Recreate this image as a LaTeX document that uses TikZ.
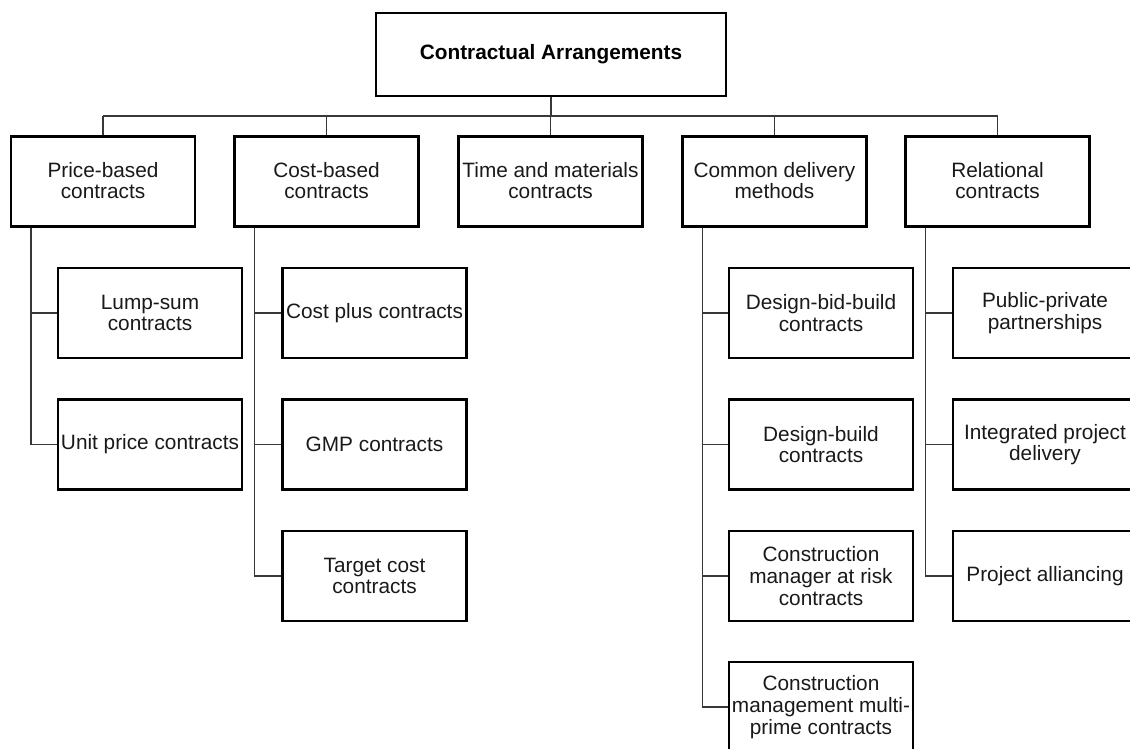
\documentclass[tikz,border=0pt]{standalone}
\usepackage{fontspec}
\setmainfont{Liberation Sans}
\begin{document}
\begin{tikzpicture}[x=1pt,y=-1pt,
  lbl/.style={font=\fontsize{20.8}{21.7}\selectfont, align=center, inner sep=0pt, text=black!90},
  rootbox/.style={draw=black, line width=2.3pt, minimum width=350pt, minimum height=83pt, inner sep=0pt,
    align=center, font=\fontsize{20.8}{21.7}\selectfont\bfseries},
  catbox/.style={draw=black, line width=2.3pt, minimum width=184pt, minimum height=90pt, inner sep=0pt},
  itembox/.style={draw=black, line width=2.3pt, minimum width=184pt, minimum height=90pt, inner sep=0pt,
    lbl},
  conn/.style={draw=black!78, line width=1.3pt}]
\useasboundingbox (0,0) rectangle (1130,749);
\clip (0,0) rectangle (1130,749);

% root
\node[rootbox] (root) at (551,54.5) {Contractual Arrangements};

% first level boxes
\node[catbox] (pb) at (103,181.5) {};
\node[catbox] (cb) at (326.5,181.5) {};
\node[catbox] (tm) at (550.5,181.5) {};
\node[catbox] (cd) at (774.5,181.5) {};
\node[catbox] (rc) at (997.5,181.5) {};

% their labels sit in the upper part of each box (base = last line)
\node[lbl, anchor=base] (pbt) at (103,198.7) {Price-based\\contracts};
\node[lbl, anchor=base] (cbt) at (326.5,198.7) {Cost-based\\contracts};
\node[lbl, anchor=base] (tmt) at (550.5,198.7) {Time and materials\\contracts};
\node[lbl, anchor=base] (cdt) at (774.5,198.7) {Common delivery\\methods};
\node[lbl, anchor=base] (rct) at (997.5,198.7) {Relational\\contracts};

% second level boxes
\node[itembox] (ls) at (150,313) {Lump-sum\\contracts};
\node[itembox] (up) at (150,444.5) {Unit price contracts};

\node[itembox] (cp) at (374.5,313) {Cost plus contracts};
\node[itembox] (gmp) at (374.5,444.5) {GMP contracts};
\node[itembox] (tc) at (374.5,576) {Target cost\\contracts};

\node[itembox] (dbb) at (821,313) {Design-bid-build\\contracts};
\node[itembox] (db) at (821,444.5) {Design-build\\contracts};
\node[itembox] (cmr) at (821,576) {Construction\\manager at risk\\contracts};
\node[itembox] (cmm) at (821,707) {Construction\\management multi-\\prime contracts};

\node[itembox] (ppp) at (1045,313) {Public-private\\partnerships};
\node[itembox] (ipd) at (1045,444.5) {Integrated project\\delivery};
\node[itembox] (pa) at (1045,576) {Project alliancing};

% bus from the root to the first level
\coordinate (bus) at (0,116);
\draw[conn] (root.south) -- (root.south |- bus);
\draw[conn] (pb.north |- bus) -- (rc.north |- bus);
\foreach \n in {pb,cb,tm,cd,rc}
  \draw[conn] (\n.north |- bus) -- (\n.north);

% trunks to the second level
\draw[conn] ([xshift=21pt]pb.south west) |- (ls.west);
\draw[conn] ([xshift=21pt]pb.south west) |- (up.west);

\draw[conn] ([xshift=21pt]cb.south west) |- (cp.west);
\draw[conn] ([xshift=21pt]cb.south west) |- (gmp.west);
\draw[conn] ([xshift=21pt]cb.south west) |- (tc.west);

\draw[conn] ([xshift=21pt]cd.south west) |- (dbb.west);
\draw[conn] ([xshift=21pt]cd.south west) |- (db.west);
\draw[conn] ([xshift=21pt]cd.south west) |- (cmr.west);
\draw[conn] ([xshift=21pt]cd.south west) |- (cmm.west);

\draw[conn] ([xshift=21pt]rc.south west) |- (ppp.west);
\draw[conn] ([xshift=21pt]rc.south west) |- (ipd.west);
\draw[conn] ([xshift=21pt]rc.south west) |- (pa.west);
\end{tikzpicture}
\end{document}
